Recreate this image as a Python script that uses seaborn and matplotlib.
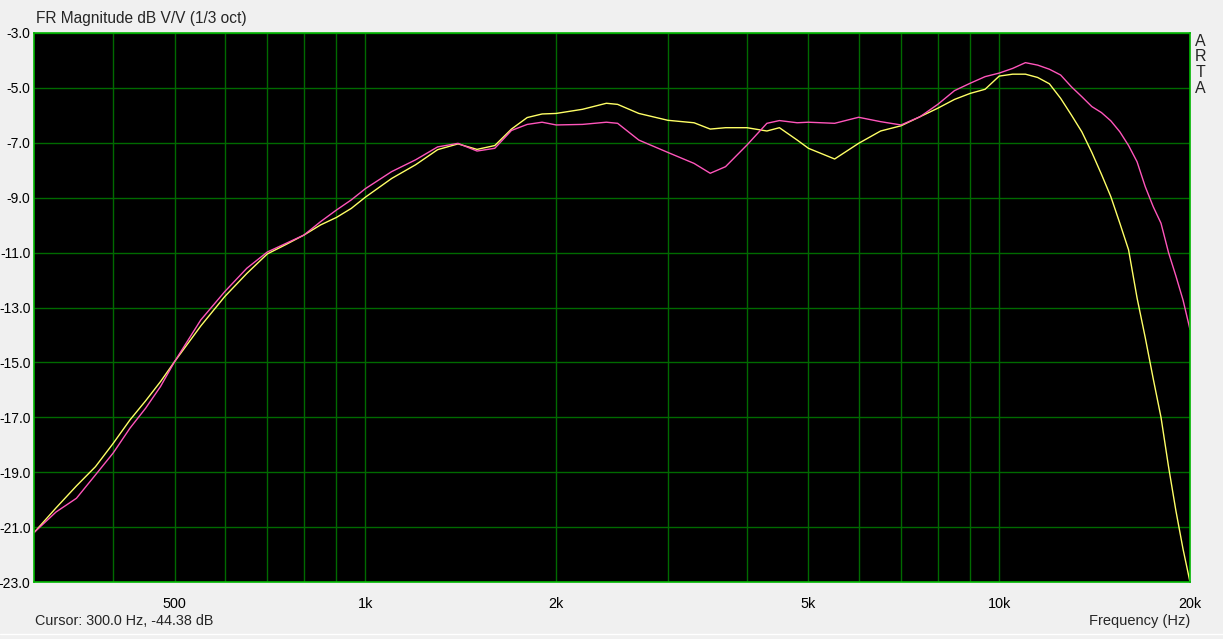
import numpy as np
import pandas as pd
import matplotlib
matplotlib.use("Agg")
import matplotlib.pyplot as plt
import seaborn as sns

# ---- data ----
freq_hz = [300, 325, 350, 375, 400, 425, 450, 475, 500, 550, 600, 650, 700, 750, 800, 850,
           900, 950, 1000, 1100, 1200, 1300, 1400, 1500, 1600, 1700, 1800, 1900, 2000, 2200,
           2400, 2500, 2700, 3000, 3300, 3500, 3700, 4000, 4300, 4500, 4800, 5000, 5500, 6000,
           6500, 7000, 7500, 8000, 8500, 9000, 9500, 10000, 10500, 11000, 11500, 12000, 12500,
           13000, 13500, 14000, 14500, 15000, 15500, 16000, 16500, 17000, 17500, 18000, 18500,
           19000, 19500, 20000]

yellow_db = [-21.2, -20.3, -19.5, -18.8, -17.95, -17.1, -16.4, -15.7, -14.97, -13.67, -12.6,
             -11.76, -11.05, -10.7, -10.36, -9.99, -9.72, -9.39, -8.98, -8.3, -7.8, -7.25,
             -7.04, -7.24, -7.1, -6.5, -6.08, -5.95, -5.93, -5.78, -5.56, -5.6, -5.93, -6.18,
             -6.27, -6.5, -6.45, -6.45, -6.57, -6.45, -6.9, -7.2, -7.59, -7.02, -6.57, -6.38,
             -6.05, -5.74, -5.42, -5.2, -5.05, -4.57, -4.5, -4.5, -4.62, -4.85, -5.38, -5.99,
             -6.6, -7.35, -8.15, -8.96, -9.93, -10.9, -12.65, -14.1, -15.6, -17.0, -18.8,
             -20.4, -21.8, -23.0]

pink_db = [-21.2, -20.45, -19.95, -19.1, -18.3, -17.4, -16.67, -15.88, -14.97, -13.45, -12.42,
           -11.57, -10.98, -10.66, -10.36, -9.87, -9.45, -9.08, -8.67, -8.05, -7.62, -7.15,
           -7.02, -7.3, -7.2, -6.55, -6.33, -6.25, -6.35, -6.33, -6.25, -6.29, -6.9, -7.35,
           -7.75, -8.11, -7.87, -7.08, -6.29, -6.19, -6.27, -6.25, -6.29, -6.07, -6.23, -6.35,
           -6.05, -5.6, -5.1, -4.83, -4.59, -4.46, -4.29, -4.08, -4.17, -4.32, -4.53, -4.96,
           -5.32, -5.68, -5.9, -6.2, -6.6, -7.1, -7.69, -8.6, -9.33, -9.93, -11.0, -11.85,
           -12.73, -13.8]

series_names = ["A", "B"]
grid_freqs = [400, 500, 600, 700, 800, 900, 1000, 2000, 3000, 4000, 5000, 6000, 7000,
              8000, 9000, 10000, 20000]
labelled = {500: "500", 1000: "1k", 2000: "2k", 5000: "5k", 10000: "10k", 20000: "20k"}
y_ticks = [-3, -5, -7, -9, -11, -13, -15, -17, -19, -21, -23]

df = pd.concat([
    pd.DataFrame({"freq": freq_hz, "db": yellow_db, "series": series_names[0]}),
    pd.DataFrame({"freq": freq_hz, "db": pink_db, "series": series_names[1]}),
])

# ---- style ----
sns.set_style("white")
plt.rcParams["font.family"] = ["Liberation Sans", "DejaVu Sans"]

W, H = 1223, 639
fig = plt.figure(figsize=(W / 100, H / 100), dpi=100, facecolor="#F0F0F0")
ax = fig.add_axes([34 / W, (H - 582) / H, 1156 / W, 549 / H])
ax.set_facecolor("black")

sns.lineplot(data=df, x="freq", y="db", hue="series",
             palette={"A": "#FFFF66", "B": "#FF55BB"},
             estimator=None, sort=False, legend=False, linewidth=1.0, ax=ax)

ax.set_xscale("log")
ax.set_xlim(300, 20000)
ax.set_ylim(-23, -3)

ax.set_xticks(grid_freqs)
ax.set_xticklabels([labelled.get(f, "") for f in grid_freqs])
ax.xaxis.set_minor_locator(matplotlib.ticker.NullLocator())
ax.set_yticks(y_ticks)
ax.set_yticklabels([f"{v:.1f}" for v in y_ticks])

ax.grid(True, color="#006A00", linewidth=1.0)
ax.set_axisbelow(True)
ax.tick_params(axis="both", length=0, colors="black")
ax.tick_params(axis="x", pad=11, labelsize=10.4)
ax.tick_params(axis="y", pad=2.5, labelsize=10)
for s in ax.spines.values():
    s.set_color("#00B400")
    s.set_linewidth(1.2)
ax.set_xlabel("")
ax.set_ylabel("")

# ---- texts ----
fig.text(36 / W, 1 - 19 / H, "FR Magnitude dB V/V (1/3 oct)", fontsize=11.2,
         ha="left", va="center")
fig.text(35 / W, 1 - 621 / H, "Cursor: 300.0 Hz, -44.38 dB", fontsize=10.4,
         ha="left", va="center")
fig.text(1190 / W, 1 - 621 / H, "Frequency (Hz)", fontsize=10.5, ha="right", va="center")
for i, ch in enumerate("ARTA"):
    fig.text(1200 / W, 1 - (41 + i * 15.7) / H, ch, fontsize=11.5, ha="center", va="center")

fig.add_artist(matplotlib.lines.Line2D([0, 1], [1 - 633.5 / H, 1 - 633.5 / H],
                                        transform=fig.transFigure, color="white", lw=1))

fig.savefig("out.png", dpi=100, facecolor=fig.get_facecolor())
